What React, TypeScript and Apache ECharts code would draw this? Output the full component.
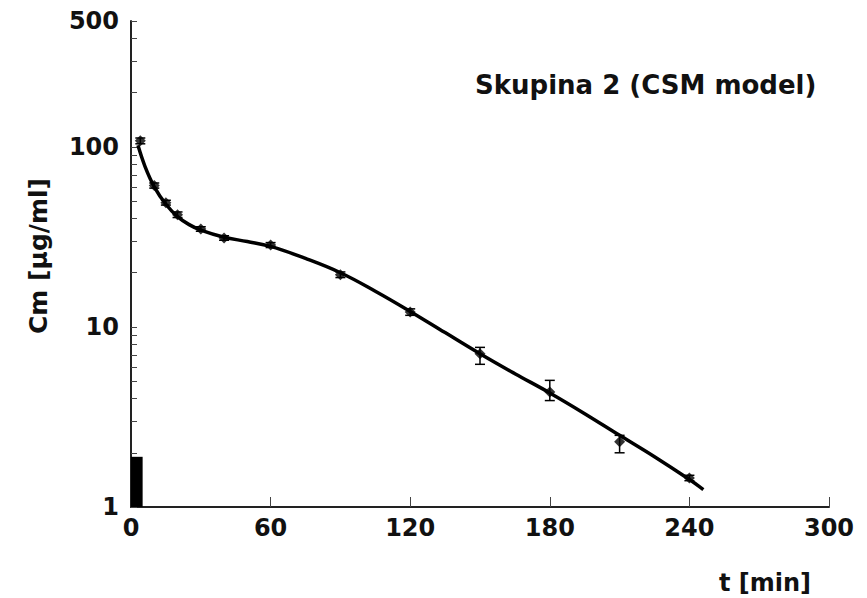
import React, { useEffect, useRef } from "react";
import * as echarts from "echarts";

const timePoints = [4, 10, 15, 20, 30, 40, 60, 90, 120, 150, 180, 210, 240];
const concentrations = [108, 61, 49, 42, 35, 31.2, 28.5, 19.5, 12.1, 7.1, 4.35, 2.3, 1.45];
const errLow = [104, 59, 47.5, 40.5, 34, 30.3, 27.6, 18.8, 11.6, 6.2, 3.9, 2.0, 1.4];
const errHigh = [112, 63, 50.5, 43.5, 36, 32.1, 29.4, 20.2, 12.6, 7.7, 5.05, 2.5, 1.5];

const fitT = [3, 6, 10, 15, 20, 25, 30, 40, 50, 60, 75, 90, 105, 120, 135, 150, 165, 180, 195, 210, 225, 240, 246];
const fitC = [102, 78, 60, 48, 41, 37, 34.5, 31.5, 29.8, 28, 24, 20, 15.8, 12.2, 9.3, 7.1, 5.5, 4.3, 3.3, 2.5, 1.9, 1.42, 1.25];

const infusion = [[0, 5, 1.9]];

const xTicks = [0, 60, 120, 180, 240, 300];
const yLabels = [1, 10, 100, 500];
const yTicks = [1, 2, 3, 4, 5, 6, 7, 8, 9, 10, 20, 30, 40, 50, 60, 70, 80, 90, 100, 200, 300, 400, 500];

const FONT = "DejaVu Sans";

export default function App() {
  const ref = useRef<HTMLDivElement>(null);
  useEffect(() => {
    if (!ref.current) return;
    const chart = echarts.init(ref.current, undefined, { renderer: "svg" });
    chart.setOption({
      animation: false,
      backgroundColor: "#fff",
      title: [
        {
          text: "Skupina 2 (CSM model)",
          left: 470,
          top: 67,
          textStyle: { fontFamily: FONT, fontWeight: "bold", fontSize: 26, color: "#111" },
        },
        {
          text: "t [min]",
          left: 714,
          top: 566,
          textStyle: { fontFamily: FONT, fontWeight: "bold", fontSize: 24, color: "#111" },
        },
      ],
      graphic: [
        {
          type: "text",
          x: 38,
          y: 256,
          rotation: Math.PI / 2,
          style: {
            text: "Cm [µg/ml]",
            fontFamily: FONT,
            fontWeight: "bold",
            fontSize: 25,
            fill: "#111",
            align: "center",
            verticalAlign: "middle",
          },
        },
      ],
      grid: { left: 131, right: 38, top: 21, bottom: 91 },
      xAxis: {
        type: "value",
        min: 0,
        max: 300,
        interval: 60,
        axisLine: { show: true, lineStyle: { color: "#222", width: 2 } },
        axisTick: { show: true, inside: true, length: 10, lineStyle: { color: "#444", width: 1 }, customValues: xTicks },
        axisLabel: {
          customValues: xTicks,
          margin: 9,
          fontFamily: FONT,
          fontWeight: "bold",
          fontSize: 24,
          color: "#111",
        },
        splitLine: { show: false },
      },
      yAxis: {
        type: "log",
        min: 1,
        max: 500,
        logBase: 10,
        axisLine: { show: true, lineStyle: { color: "#222", width: 2 } },
        axisTick: { show: true, inside: true, length: 6, lineStyle: { color: "#444", width: 1 }, customValues: yTicks },
        axisLabel: {
          customValues: yLabels,
          margin: 12,
          fontFamily: FONT,
          fontWeight: "bold",
          fontSize: 24,
          color: "#111",
        },
        splitLine: { show: false },
        minorTick: { show: false },
      },
      series: [
        {
          type: "custom",
          data: infusion,
          renderItem: (params: any, api: any) => {
            const p0 = api.coord([api.value(0), 1]);
            const p1 = api.coord([api.value(1), api.value(2)]);
            return {
              type: "rect",
              shape: { x: p0[0], y: p1[1], width: p1[0] - p0[0], height: p0[1] - p1[1] },
              style: { fill: "#000" },
            };
          },
          z: 1,
        },
        {
          type: "line",
          data: fitT.map((t, i) => [t, fitC[i]]),
          smooth: 0.4,
          showSymbol: false,
          lineStyle: { color: "#000", width: 3.5 },
          z: 2,
        },
        {
          type: "custom",
          data: timePoints.map((t, i) => [t, errLow[i], errHigh[i]]),
          renderItem: (params: any, api: any) => {
            const lo = api.coord([api.value(0), api.value(1)]);
            const hi = api.coord([api.value(0), api.value(2)]);
            const w = 5;
            return {
              type: "group",
              children: [
                { type: "line", shape: { x1: lo[0], y1: lo[1], x2: hi[0], y2: hi[1] }, style: { stroke: "#000", lineWidth: 1.5 } },
                { type: "line", shape: { x1: lo[0] - w, y1: lo[1], x2: lo[0] + w, y2: lo[1] }, style: { stroke: "#000", lineWidth: 1.5 } },
                { type: "line", shape: { x1: hi[0] - w, y1: hi[1], x2: hi[0] + w, y2: hi[1] }, style: { stroke: "#000", lineWidth: 1.5 } },
              ],
            };
          },
          z: 3,
        },
        {
          type: "scatter",
          data: timePoints.map((t, i) => [t, concentrations[i]]),
          symbol: "diamond",
          symbolSize: 11,
          itemStyle: { color: "#000" },
          z: 4,
        },
      ],
    });
    return () => chart.dispose();
  }, []);
  return <div ref={ref} style={{ width: 867, height: 598, position: "absolute", left: 0, top: 0 }} />;
}
